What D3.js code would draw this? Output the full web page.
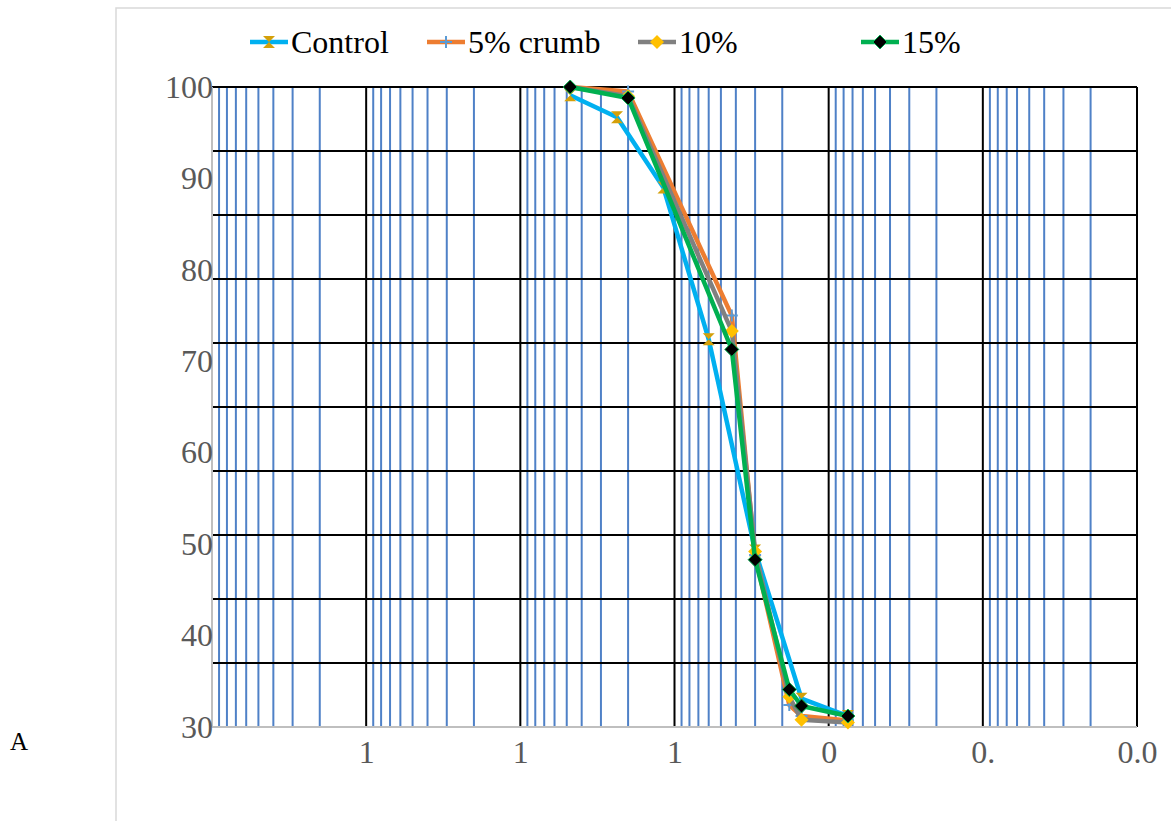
<!DOCTYPE html>
<html>
<head>
<meta charset="utf-8">
<script src="https://cdn.jsdelivr.net/npm/d3@7"></script>
<style>
    body { margin: 0; background: #fff; }
    svg { display: block; }
    svg text { font-family: "Liberation Serif", "Times New Roman", serif; }
</style>
</head>
<body>
<div id="chart"></div>
<script>
// sieve sizes (mm) and percent passing
var controlSizes = [4.75, 2.36, 1.18, 0.6, 0.3, 0.15, 0.075];
var crumbSizes = [4.75, 2.0, 0.425, 0.3, 0.18, 0.15, 0.075];
var controlPassing = [99.1, 96.7, 89.0, 72.4, 49.3, 33.1, 31.2];
var crumb5Passing = [100, 99.5, 75.0, 48.8, 32.4, 31.2, 30.7];
var crumb10Passing = [100, 99.0, 73.3, 49.2, 33.3, 30.8, 30.5];
var crumb15Passing = [100, 98.8, 71.3, 48.3, 34.1, 32.3, 31.2];
var seriesNames = ['Control', '5% crumb', '10%', '15%'];
var xTickValues = [100, 10, 1, 0.1, 0.01, 0.001];
var xTickLabels = ['1', '1', '1', '0', '0.', '0.0'];
var yTickValues = [30, 40, 50, 60, 70, 80, 90, 100];
var yGridValues = [30, 37, 44, 51, 58, 65, 72, 79, 86, 93, 100];

var width = 1171, height = 821;
var plot = { left: 212, right: 1137, top: 87, bottom: 727 };
var serif = '"Liberation Serif", "Times New Roman", serif';

var svg = d3.select('#chart').append('svg')
    .attr('width', width)
    .attr('height', height);

var x = d3.scaleLog().domain([1000, 0.001]).range([plot.left, plot.right]);
var y = d3.scaleLinear().domain([30, 100]).range([plot.bottom, plot.top]);

function isMajor(d) {
    var l = Math.log10(d);
    return Math.abs(l - Math.round(l)) < 1e-9;
}

// chart area frame
svg.append('rect')
    .attr('x', 116).attr('y', 8)
    .attr('width', 1200).attr('height', 1000)
    .attr('fill', 'none')
    .attr('stroke', '#d9d9d9')
    .attr('stroke-width', 1.5);

// vertical grid: minor blue, major black
var xTicks = x.ticks();
svg.append('g')
    .selectAll('line')
    .data(xTicks.filter(function (d) { return !isMajor(d); }))
    .enter().append('line')
    .attr('x1', function (d) { return x(d); })
    .attr('x2', function (d) { return x(d); })
    .attr('y1', plot.top).attr('y2', plot.bottom)
    .attr('stroke', '#4f81c7')
    .attr('stroke-width', 2);

svg.append('g')
    .selectAll('line')
    .data(xTicks.filter(function (d) { return isMajor(d) && d < 1000; }))
    .enter().append('line')
    .attr('x1', function (d) { return x(d); })
    .attr('x2', function (d) { return x(d); })
    .attr('y1', plot.top).attr('y2', plot.bottom)
    .attr('stroke', '#000')
    .attr('stroke-width', 2);

svg.append('g')
    .selectAll('line')
    .data(yGridValues.filter(function (d) { return d > 30; }))
    .enter().append('line')
    .attr('x1', plot.left).attr('x2', plot.right)
    .attr('y1', function (d) { return y(d); })
    .attr('y2', function (d) { return y(d); })
    .attr('stroke', '#000')
    .attr('stroke-width', 2);

// axis lines
svg.append('line')
    .attr('x1', plot.left).attr('x2', plot.left)
    .attr('y1', plot.top).attr('y2', plot.bottom)
    .attr('stroke', '#bfbfbf').attr('stroke-width', 2);
svg.append('line')
    .attr('x1', plot.left).attr('x2', plot.right)
    .attr('y1', plot.bottom).attr('y2', plot.bottom)
    .attr('stroke', '#bfbfbf').attr('stroke-width', 2);

// axis labels
var yAxis = svg.append('g')
    .attr('transform', 'translate(' + (plot.left + 1) + ',0)')
    .call(d3.axisLeft(y).tickValues(yTickValues).tickSize(0).tickPadding(0));
var xAxis = svg.append('g')
    .attr('transform', 'translate(0,' + plot.bottom + ')')
    .call(d3.axisBottom(x).tickValues(xTickValues)
        .tickFormat(function (d, i) { return xTickLabels[i]; })
        .tickSize(0).tickPadding(13));
[yAxis, xAxis].forEach(function (g) {
    g.attr('font-family', serif).attr('font-size', 32);
    g.select('.domain').remove();
    g.selectAll('text')
        .attr('fill', '#595959')
        .style('font-family', serif)
        .style('font-size', '32px');
});

svg.append('text')
    .attr('x', 10).attr('y', 750)
    .style('font-family', serif)
    .style('font-size', '25px')
    .attr('fill', '#000')
    .text('A');

// markers
function hourglass(sel) {
    sel.append('path')
        .attr('d', 'M-6,-6H6L-6,6H6Z')
        .attr('fill', '#d4a00a');
}
function plusMark(sel) {
    sel.append('path')
        .attr('d', 'M-6,0H6M0,-6V6')
        .attr('stroke', '#5b9bd5')
        .attr('stroke-width', 2);
}
function yellowDiamond(sel) {
    sel.append('path')
        .attr('d', 'M0,-7L7,0L0,7L-7,0Z')
        .attr('fill', '#ffc000');
}
function blackDiamond(sel) {
    sel.append('path')
        .attr('d', 'M0,-7L7,0L0,7L-7,0Z')
        .attr('fill', '#000')
        .attr('stroke', '#00b050')
        .attr('stroke-width', 1);
}

var series = [
    { name: seriesNames[0], sizes: controlSizes, values: controlPassing, color: '#00b0f0', marker: hourglass },
    { name: seriesNames[1], sizes: crumbSizes, values: crumb5Passing, color: '#ed7d31', marker: plusMark },
    { name: seriesNames[2], sizes: crumbSizes, values: crumb10Passing, color: '#808080', marker: yellowDiamond },
    { name: seriesNames[3], sizes: crumbSizes, values: crumb15Passing, color: '#00b050', marker: blackDiamond }
];

var line = d3.line()
    .x(function (d) { return x(d[0]); })
    .y(function (d) { return y(d[1]); });

series.forEach(function (s) {
    var pts = s.sizes.map(function (d, i) { return [d, s.values[i]]; });
    var g = svg.append('g');
    g.append('path')
        .attr('d', line(pts))
        .attr('fill', 'none')
        .attr('stroke', s.color)
        .attr('stroke-width', 4.5)
        .attr('stroke-linejoin', 'round');
    g.selectAll('g.pt')
        .data(pts)
        .enter().append('g')
        .attr('class', 'pt')
        .attr('transform', function (d) { return 'translate(' + x(d[0]) + ',' + y(d[1]) + ')'; })
        .each(function () { s.marker(d3.select(this)); });
});

// legend (its white box hides the top of the "100" label)
var legend = svg.append('g');
legend.append('rect')
    .attr('x', 150).attr('y', 14)
    .attr('width', 900).attr('height', 63)
    .attr('fill', '#fff');
var legendX = [250, 427, 638, 861];
series.forEach(function (s, i) {
    var item = legend.append('g').attr('transform', 'translate(' + legendX[i] + ',42)');
    item.append('line')
        .attr('x1', 0).attr('x2', 38)
        .attr('stroke', s.color)
        .attr('stroke-width', 4.5);
    s.marker(item.append('g').attr('transform', 'translate(19,0)'));
    item.append('text')
        .attr('x', 41).attr('y', 11)
        .style('font-family', serif)
        .style('font-size', '32px')
        .attr('fill', '#000')
        .text(s.name);
});
</script>
</body>
</html>
